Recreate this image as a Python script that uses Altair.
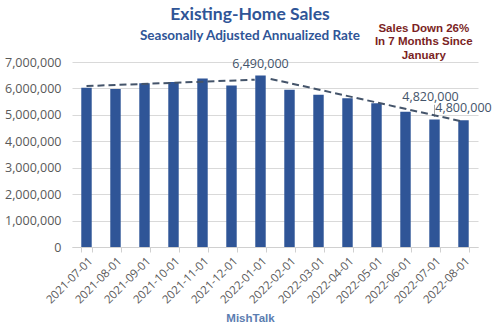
import altair as alt
import pandas as pd

months = ["2021-07-01", "2021-08-01", "2021-09-01", "2021-10-01", "2021-11-01",
          "2021-12-01", "2022-01-01", "2022-02-01", "2022-03-01", "2022-04-01",
          "2022-05-01", "2022-06-01", "2022-07-01", "2022-08-01"]
sales = [6030000, 5980000, 6200000, 6240000, 6380000, 6110000, 6490000,
         5950000, 5760000, 5630000, 5440000, 5120000, 4820000, 4800000]

# dashed trend arrows (position in bar index units, value)
trend_seg = ["a", "a", "b", "b"]
trend_pos = [0.0, 5.8, 6.35, 13.0]
trend_val = [6090000, 6330000, 6360000, 4740000]

# labelled points
lab_month = ["2022-01-01", "2022-07-01", "2022-08-01"]
lab_val = [6490000, 4820000, 4800000]
lab_text = ["6,490,000", "4,820,000", "4,800,000"]
lab_dy = [-11, -23, -12]
lab_dx = [0, -4, 0]

note_lines = ["Sales Down 26%", "In 7 Months Since", "January"]
note_val = [8230000, 7740000, 7240000]
note_pos = 11.63

y_ticks = [0, 1000000, 2000000, 3000000, 4000000, 5000000, 6000000, 7000000]

BLUE = "#2F5597"
GREY = "#595959"
LABEL = "#44546A"

W, H = 406, 185

bars_df = pd.DataFrame({"month": months, "sales": sales})
trend_df = pd.DataFrame({"seg": trend_seg, "pos": trend_pos, "val": trend_val})
lab_df = pd.DataFrame({"month": lab_month, "val": lab_val, "text": lab_text})
note_df = pd.DataFrame({"line": note_lines, "val": note_val, "pos": [note_pos] * 3})

yscale = alt.Scale(domain=[0, 7000000], nice=False)
xband = alt.Scale(paddingInner=0.64, paddingOuter=0.32)
xlin = alt.Scale(domain=[-0.5, 13.5], nice=False, zero=False)

yaxis = alt.Axis(title=None, values=y_ticks, format=",d", labelFontSize=12.5,
                 labelColor=GREY, labelFont="Open Sans", domain=False,
                 ticks=False, gridColor="#D9D9D9", labelPadding=11,
                 labelOverlap=False)

bars = alt.Chart(bars_df).mark_bar(color=BLUE, clip=False).encode(
    x=alt.X("month:N", sort=months, scale=xband,
            axis=alt.Axis(title="MishTalk", labelAngle=-45, labelFontSize=11.5,
                          labelColor=GREY, labelFont="Open Sans",
                          domainColor="#D0D0D0", tickColor="#D0D0D0",
                          tickBand="extent", tickSize=5, labelPadding=3,
                          grid=False, titleFont="Liberation Sans",
                          titleFontSize=11.5, titleFontWeight="bold",
                          titleColor="#5B7DB1", titleX=178, titleY=71,
                          titleBaseline="middle", titleAlign="center")),
    y=alt.Y("sales:Q", scale=yscale, axis=yaxis),
)

label_layers = []
for i in range(len(lab_text)):
    label_layers.append(
        alt.Chart(lab_df.iloc[[i]]).mark_text(
            fontSize=12.5, color=LABEL, font="Open Sans", baseline="middle",
            dy=lab_dy[i], dx=lab_dx[i]).encode(
            x=alt.X("month:N", sort=months, scale=xband),
            y=alt.Y("val:Q", scale=yscale, axis=yaxis),
            text="text:N")
    )

leader_df = pd.DataFrame({"month": ["2022-07-01"], "v1": [4920000], "v2": [5380000]})
leader = alt.Chart(leader_df).mark_rule(color="#A6A6A6", strokeWidth=1).encode(
    x=alt.X("month:N", sort=months, scale=xband),
    y=alt.Y("v1:Q", scale=yscale, axis=yaxis), y2="v2:Q")

band_layer = alt.layer(bars, leader, *label_layers)

trend = alt.Chart(trend_df).mark_line(color="#44546A", strokeWidth=2,
                                      strokeDash=[7, 4]).encode(
    x=alt.X("pos:Q", scale=xlin, axis=None),
    y=alt.Y("val:Q", scale=yscale, axis=yaxis),
    detail="seg:N",
)

note = alt.Chart(note_df).mark_text(fontSize=11.5, fontWeight="bold",
                                    color="#7B1F24", font="Liberation Sans",
                                    baseline="middle", clip=False).encode(
    x=alt.X("pos:Q", scale=xlin, axis=None),
    y=alt.Y("val:Q", scale=yscale, axis=yaxis),
    text="line:N",
)

lin_layer = alt.layer(trend, note)

chart = alt.layer(band_layer, lin_layer).resolve_scale(x="independent").properties(
    width=W, height=H,
    title=alt.TitleParams(
        "Existing-Home Sales",
        subtitle="Seasonally Adjusted Annualized Rate",
        font="Lato", fontSize=17.5, fontWeight="bold", color=BLUE,
        subtitleFont="Lato", subtitleFontSize=13.5, subtitleFontWeight="bold",
        subtitleColor=BLUE, anchor="middle", offset=14, subtitlePadding=5,
        dx=-25, dy=33,
    ),
    autosize=alt.AutoSizeParams(type="none"),
    padding={"left": 72, "top": 62, "right": 22, "bottom": 83},
).configure_view(stroke=None)

chart.save("out.html", embed_options={"renderer": "svg", "actions": False})
